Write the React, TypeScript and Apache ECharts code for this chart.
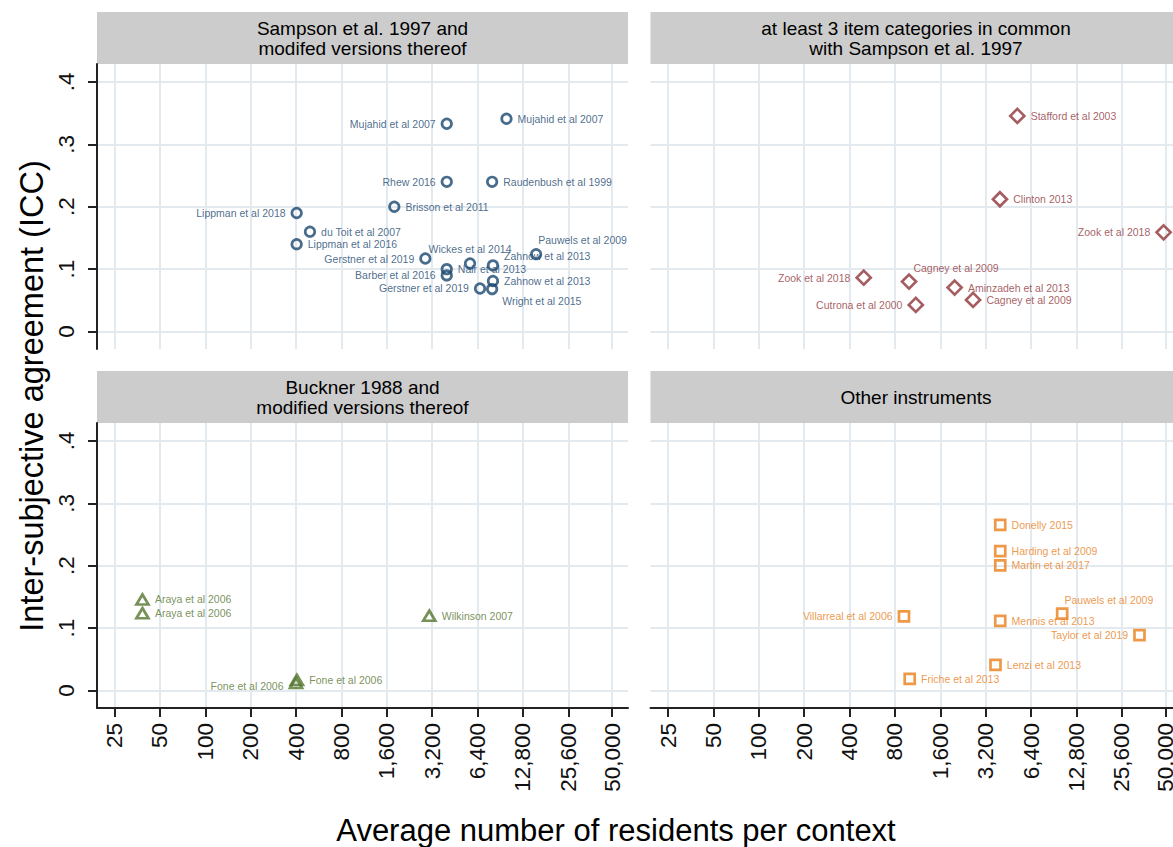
import React, { useEffect, useRef } from 'react';
import * as echarts from 'echarts';

// ---------- data ----------
const residentTicks = [25, 50, 100, 200, 400, 800, 1600, 3200, 6400, 12800, 25600, 50000];
const iccTicks = [0, 0.1, 0.2, 0.3, 0.4];

const panelTitles = [
  'Sampson et al. 1997 and\nmodifed versions thereof',
  'at least 3 item categories in common\nwith Sampson et al. 1997',
  'Buckner 1988 and\nmodified versions thereof',
  'Other instruments',
];

const sampsonNames = [
  'Mujahid et al 2007', 'Mujahid et al 2007', 'Rhew 2016', 'Raudenbush et al 1999',
  'Brisson et al 2011', 'Lippman et al 2018', 'du Toit et al 2007', 'Lippman et al 2016',
  'Gerstner et al 2019', 'Wickes et al 2014', 'Pauwels et al 2009', 'Zahnow et al 2013',
  'Nair et al 2013', 'Barber et al 2016', 'Zahnow et al 2013', 'Gerstner et al 2019',
  'Wright et al 2015',
];
const sampsonResidents = [4000, 9960, 4000, 8000, 1795, 404, 495, 404, 2885, 5708, 15660, 8100, 4000, 4000, 8100, 6650, 8000];
const sampsonIcc = [0.333, 0.341, 0.24, 0.24, 0.2, 0.19, 0.16, 0.14, 0.117, 0.109, 0.124, 0.106, 0.1, 0.09, 0.081, 0.069, 0.068];

const commonNames = [
  'Stafford et al 2003', 'Clinton 2013', 'Zook et al 2018', 'Zook et al 2018',
  'Cagney et al 2009', 'Aminzadeh et al 2013', 'Cutrona et al 2000', 'Cagney et al 2009',
];
const commonResidents = [5190, 3980, 48500, 497, 993, 1992, 1101, 2640];
const commonIcc = [0.3456, 0.212, 0.159, 0.0864, 0.08, 0.0704, 0.0427, 0.0507];

const bucknerNames = ['Araya et al 2006', 'Araya et al 2006', 'Wilkinson 2007', 'Fone et al 2006', 'Fone et al 2006'];
const bucknerResidents = [38.3, 38.3, 3063, 400, 405];
const bucknerIcc = [0.146, 0.124, 0.12, 0.012, 0.017];

const otherNames = [
  'Donelly 2015', 'Harding et al 2009', 'Martin et al 2017', 'Pauwels et al 2009',
  'Villarreal et al 2006', 'Mennis et al 2013', 'Taylor et al 2019', 'Lenzi et al 2013',
  'Friche et al 2013',
];
const otherResidents = [4000, 4000, 4000, 10300, 919, 4000, 33550, 3720, 1003];
const otherIcc = [0.2654, 0.2234, 0.2005, 0.1234, 0.119, 0.1117, 0.0888, 0.041, 0.0186];

// ---------- label placement (style, not data) ----------
const sampsonLabelPos = ['L', 'R', 'L', 'R', 'R', 'L', 'R', 'R', 'L', 'T', 'UR', 'UR2', 'R', 'L', 'R', 'L', 'DR'];
const commonLabelPos = ['R', 'R', 'L', 'L', 'UR', 'R', 'L', 'R'];
const bucknerLabelPos = ['R', 'R', 'R', 'LD', 'R'];
const otherLabelPos = ['R', 'R', 'R', 'UR', 'L', 'R', 'L', 'R', 'R'];

const FONT = '"Liberation Sans", Arial, Helvetica, sans-serif';
const X_MIN = 4.258;
const X_MAX = 15.96;
const Y_MIN = -0.028;
const Y_MAX = 0.4288;

const GRIDS = [
  { left: 97, top: 64 },
  { left: 650.5, top: 64 },
  { left: 97, top: 423 },
  { left: 650.5, top: 423 },
];
const GW = 531;
const GH = 285;
const HEADER_H = 52;

function labelFor(code: string) {
  switch (code) {
    case 'L':
      return { position: 'left', distance: 5 };
    case 'LD':
      return { position: 'left', distance: 5, offset: [0, 3] };
    case 'T':
      return { position: 'top', distance: 3 };
    case 'UR':
      return { position: 'right', distance: 0, offset: [-4, -14] };
    case 'UR2':
      return { position: 'right', distance: 5, offset: [0, -9] };
    case 'DR':
      return { position: 'right', distance: 4, offset: [0, 12] };
    default:
      return { position: 'right', distance: 5 };
  }
}

function fmtIcc(v: number) {
  if (Math.abs(v) < 1e-9) return '0';
  return v.toFixed(1).replace(/^0/, '');
}
function fmtRes(v: number) {
  return Math.round(Math.pow(2, v)).toLocaleString('en-US');
}

export default function App() {
  const ref = useRef<HTMLDivElement>(null);

  useEffect(() => {
    if (!ref.current) return;
    const chart = echarts.init(ref.current, undefined, { renderer: 'svg' });

    const panels = [
      { names: sampsonNames, res: sampsonResidents, icc: sampsonIcc, pos: sampsonLabelPos, color: '#1a476f', symbol: 'circle', size: 9.5 },
      { names: commonNames, res: commonResidents, icc: commonIcc, pos: commonLabelPos, color: '#90353b', symbol: 'diamond', size: [14, 14] },
      { names: bucknerNames, res: bucknerResidents, icc: bucknerIcc, pos: bucknerLabelPos, color: '#55752f', symbol: 'triangle', size: [12, 10] },
      { names: otherNames, res: otherResidents, icc: otherIcc, pos: otherLabelPos, color: '#e8801a', symbol: 'rect', size: 10 },
    ];

    const tickU = residentTicks.map((t) => Math.log2(t));
    const gridColor = '#e2eaf0';
    const axisColor = '#222222';

    const grid = GRIDS.map((g) => ({
      left: g.left,
      top: g.top,
      width: GW,
      height: GH,
      containLabel: false,
      outerBoundsMode: 'none',
    }));

    const xAxis = GRIDS.map((g, i) => {
      const bottom = i >= 2;
      return {
        type: 'value',
        gridIndex: i,
        min: X_MIN,
        max: X_MAX,
        axisLine: { show: bottom, onZero: false, lineStyle: { color: axisColor, width: 2 } },
        axisTick: { show: bottom, customValues: tickU, length: 9, lineStyle: { color: axisColor, width: 2 } },
        axisLabel: {
          show: bottom,
          customValues: tickU,
          rotate: 90,
          margin: 15,
          fontSize: 22.5,
          fontFamily: FONT,
          color: '#111',
          formatter: fmtRes,
        },
        splitLine: { show: true, lineStyle: { color: gridColor, width: 2 } },
      };
    });

    const yAxis = GRIDS.map((g, i) => {
      const left = i % 2 === 0;
      return {
        type: 'value',
        gridIndex: i,
        min: Y_MIN,
        max: Y_MAX,
        axisLine: { show: left, onZero: false, lineStyle: { color: axisColor, width: 2 } },
        axisTick: { show: left, customValues: iccTicks, length: 9, lineStyle: { color: axisColor, width: 2 } },
        axisLabel: {
          show: left,
          customValues: iccTicks,
          rotate: 90,
          margin: 19,
          fontSize: 22.5,
          fontFamily: FONT,
          color: '#111',
          formatter: fmtIcc,
        },
        splitLine: { show: true, lineStyle: { color: gridColor, width: 2 } },
      };
    });

    const series = panels.map((p, i) => ({
      type: 'scatter',
      xAxisIndex: i,
      yAxisIndex: i,
      symbol: p.symbol,
      symbolSize: p.size,
      itemStyle: { color: 'rgba(255,255,255,0)', borderColor: p.color, borderWidth: 2.7 },
      label: {
        show: true,
        formatter: '{b}',
        fontSize: 10.5,
        fontFamily: FONT,
        color: p.color,
      },
      emphasis: { disabled: true },
      data: p.names.map((n, k) => ({
        name: n,
        value: [Math.log2(p.res[k]), p.icc[k]],
        label: labelFor(p.pos[k]),
      })),
    }));

    const graphic: any[] = [];
    GRIDS.forEach((g, i) => {
      const hTop = g.top - HEADER_H;
      graphic.push({
        type: 'rect',
        shape: { x: g.left, y: hTop, width: GW, height: HEADER_H },
        style: { fill: '#cccccc' },
        silent: true,
      });
      graphic.push({
        type: 'text',
        x: g.left + GW / 2,
        y: hTop + HEADER_H / 2,
        style: {
          text: panelTitles[i],
          fontSize: 19,
          lineHeight: 20,
          fontFamily: FONT,
          fill: '#000',
          textAlign: 'center',
          textVerticalAlign: 'middle',
        },
        silent: true,
      });
    });
    graphic.push({
      type: 'text',
      x: 616,
      y: 830,
      style: {
        text: 'Average number of residents per context',
        fontSize: 31,
        fontFamily: FONT,
        fill: '#000',
        textAlign: 'center',
        textVerticalAlign: 'middle',
      },
      silent: true,
    });
    graphic.push({
      type: 'text',
      x: 32,
      y: 396,
      rotation: Math.PI / 2,
      style: {
        text: 'Inter-subjective agreement (ICC)',
        fontSize: 32.5,
        fontFamily: FONT,
        fill: '#000',
        textAlign: 'center',
        textVerticalAlign: 'middle',
      },
      silent: true,
    });

    chart.setOption({
      animation: false,
      backgroundColor: '#ffffff',
      textStyle: { fontFamily: FONT },
      grid,
      xAxis,
      yAxis,
      series,
      graphic,
    });

    return () => {
      chart.dispose();
    };
  }, []);

  return (
    <div
      ref={ref}
      style={{ position: 'absolute', left: 0, top: 0, width: 1173, height: 847, background: '#fff' }}
    />
  );
}
